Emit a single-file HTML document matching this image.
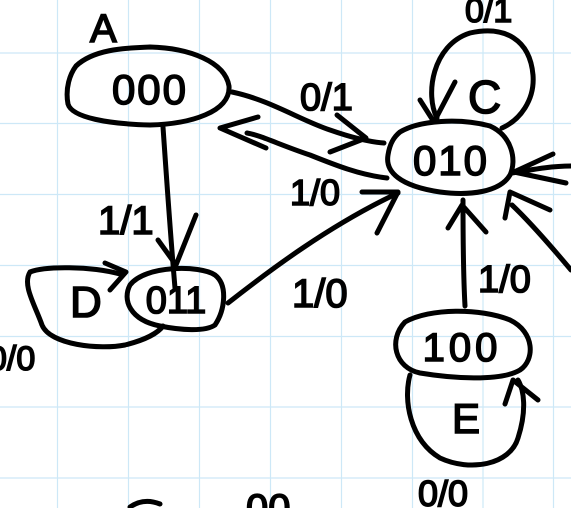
<!DOCTYPE html>
<html><head><meta charset="utf-8"><style>
html,body{margin:0;padding:0;background:#fff;}
svg{display:block;}
text{font-family:"Liberation Sans",sans-serif;fill:#000;stroke:#000;stroke-width:1.6;}
</style></head><body>
<svg width="571" height="508" viewBox="0 0 571 508" xmlns="http://www.w3.org/2000/svg">
<g stroke="#cde8f7" stroke-width="1.2">
<line x1="57.5" y1="0" x2="57.5" y2="508"/><line x1="128.5" y1="0" x2="128.5" y2="508"/><line x1="199.5" y1="0" x2="199.5" y2="508"/><line x1="270.5" y1="0" x2="270.5" y2="508"/><line x1="341.5" y1="0" x2="341.5" y2="508"/><line x1="412.5" y1="0" x2="412.5" y2="508"/><line x1="483" y1="0" x2="483" y2="508"/><line x1="553.5" y1="0" x2="553.5" y2="508"/>
<line x1="0" y1="53" x2="571" y2="53"/><line x1="0" y1="123.5" x2="571" y2="123.5"/><line x1="0" y1="194.5" x2="571" y2="194.5"/><line x1="0" y1="265.5" x2="571" y2="265.5"/><line x1="0" y1="336.5" x2="571" y2="336.5"/><line x1="0" y1="407" x2="571" y2="407"/><line x1="0" y1="478" x2="571" y2="478"/>
</g>
<g fill="none" stroke="#000" stroke-width="5" stroke-linecap="round" stroke-linejoin="round">
<path d="M76,66 C95,48 130,48 150,47 C190,48 225,62 229,86 C231,112 190,124 150,125 C110,124 72,118 68,104 C65,88 70,74 76,66 Z"/>
<path d="M400,132 C420,120 460,118 490,126 C512,136 517,160 510,175 C500,192 470,196 440,192 C400,186 385,172 388,155 C390,142 395,136 400,132 Z"/>
<path d="M437,118 C425,95 432,45 470,33 C505,25 530,40 533,75 C535,100 520,120 502,128"/>
<path d="M130,285 C145,265 200,265 215,275 C228,285 225,310 215,325 C205,332 180,330 160,326 C130,320 122,300 130,285 Z"/>
<path d="M120,274 C90,266 45,266 30,272 C22,285 35,305 42,325 C50,345 100,350 125,345 C145,340 158,333 163,326"/>
<path d="M405,322 C430,308 480,308 510,320 C535,332 535,360 520,370 C500,382 450,378 420,373 C395,368 388,340 405,322 Z"/>
<path d="M410,375 C403,400 410,440 440,458 C470,472 510,465 518,438 C527,410 524,390 518,380"/>
<path d="M505,404 L513,380 L538,400"/>
<path d="M232,92 C270,100 300,120 330,130 C350,137 370,142 384,143"/>
<path d="M337,115 L366,138 L330,152"/>
<path d="M387,178 C360,175 335,165 310,155 C280,145 260,135 247,133"/>
<path d="M258,117 L220,128 L266,148"/>
<path d="M163,127 C166,170 170,230 175,288"/>
<path d="M158,240 L176,265 L196,215"/>
<path d="M105,263 L126,272 L110,290"/>
<path d="M228,303 C270,270 330,225 398,193"/>
<path d="M362,192 L398,192 L377,233"/>
<path d="M465,306 C463,270 463,230 463,200"/>
<path d="M448,228 L462,205 L486,232"/>
<path d="M571,166 C550,166 530,170 512,173"/>
<path d="M553,154 L514,172 L566,183"/>
<path d="M571,270 C550,245 530,222 512,205"/>
<path d="M505,218 L510,192 L550,210"/>
<path d="M420,100 L434,122 L455,82"/>
<path d="M130,507 C140,500 150,500 160,504"/>
</g>
<g font-size="38">
<text x="90" y="42" font-size="40">A</text>
<text x="150" y="104" text-anchor="middle" font-size="42" letter-spacing="2">000</text>
<text x="451" y="175" text-anchor="middle" font-size="42" letter-spacing="2">010</text>
<text x="468" y="113" font-size="46">C</text>
<text x="465" y="22" font-size="34">0/1</text>
<text x="176" y="313" text-anchor="middle" font-size="38">011</text>
<text x="70" y="317" font-size="44">D</text>
<text x="-12" y="370" font-size="34">0/0</text>
<text x="462" y="361" text-anchor="middle" font-size="40" letter-spacing="4">100</text>
<text x="452" y="433" font-size="42">E</text>
<text x="418" y="506" font-size="36">0/0</text>
<text x="300" y="110" font-size="38">0/1</text>
<text x="290" y="205" font-size="36">1/0</text>
<text x="98" y="234" font-size="40">1/1</text>
<text x="292" y="307" font-size="40">1/0</text>
<text x="478" y="292" font-size="38">1/0</text>
<text x="246" y="522" font-size="40">00</text>
</g>
</svg>
</body></html>
